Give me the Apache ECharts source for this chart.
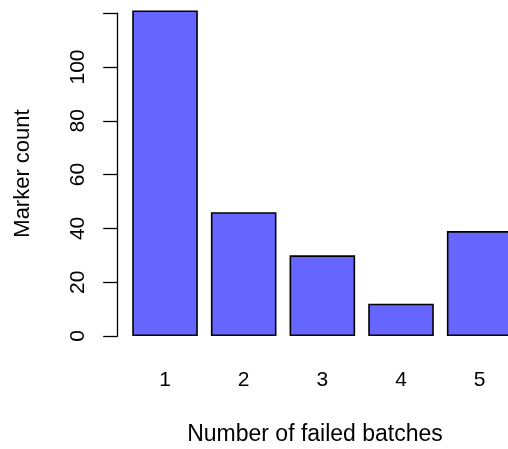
<!DOCTYPE html>
<html><head><meta charset="utf-8">
<script src="https://cdn.jsdelivr.net/npm/echarts@6/dist/echarts.min.js"></script>
<style>html,body{margin:0;padding:0;background:#fff;overflow:hidden}#c{width:520px;height:449px}</style>
</head><body><div id="c"></div>
<script>
const categories = ['1', '2', '3', '4', '5'];
const markerCounts = [121, 46, 30, 12, 39];
const yTicks = [0, 20, 40, 60, 80, 100, 120];
const yLabelShown = ['0', '20', '40', '60', '80', '100'];
const xTitle = 'Number of failed batches';
const yTitle = 'Marker count';

const FONT = 'Liberation Sans, Arial, Helvetica, sans-serif';
const chart = echarts.init(document.getElementById('c'), null, {renderer: 'canvas'});
chart.setOption({
  animation: false,
  backgroundColor: '#ffffff',
  grid: {left: 125.7, width: 393.3, top: 13.2, bottom: 113, containLabel: false},
  xAxis: {
    type: 'category', data: categories,
    axisLine: {show: false}, axisTick: {show: false},
    axisLabel: {color: '#000', fontFamily: FONT, fontSize: 21, margin: 34}
  },
  yAxis: {
    type: 'value', min: yTicks[0], max: yTicks[yTicks.length - 1], interval: 20,
    offset: 8,
    splitLine: {show: false},
    axisLine: {show: true, lineStyle: {color: '#000', width: 1.3}},
    axisTick: {show: true, length: 14.5, lineStyle: {color: '#000', width: 1.3}},
    axisLabel: {
      color: '#000', fontFamily: FONT, fontSize: 21, rotate: 90, margin: 29,
      formatter: v => yLabelShown.includes(String(v)) ? String(v) : ''
    }
  },
  series: [{
    type: 'bar', data: markerCounts, clip: false,
    barCategoryGap: '16.6%',
    itemStyle: {color: '#6666ff', borderColor: '#000', borderWidth: 1.6}
  }],
  graphic: [
    {type: 'text', x: 315, y: 435,
     style: {text: xTitle, fill: '#000', font: '23px ' + FONT, textAlign: 'center', textVerticalAlign: 'middle'}},
    {type: 'text', x: 23, y: 173.5, rotation: Math.PI / 2,
     style: {text: yTitle, fill: '#000', font: '22px ' + FONT, textAlign: 'center', textVerticalAlign: 'middle'}}
  ]
});
</script></body></html>
